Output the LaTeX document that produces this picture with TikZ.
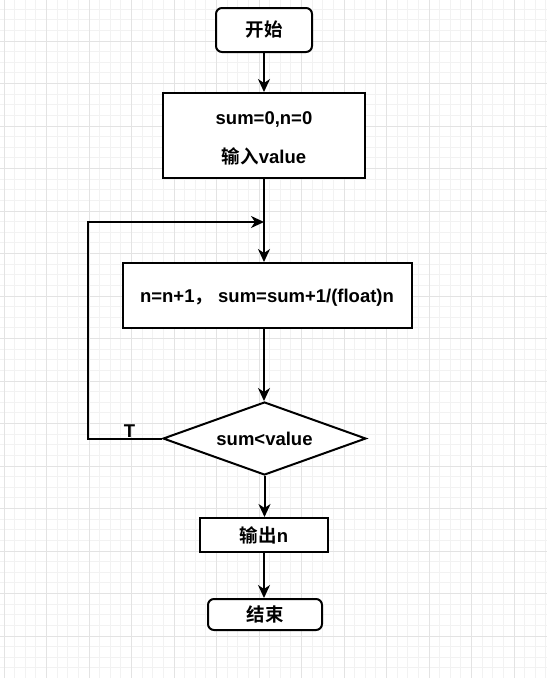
\documentclass[tikz,border=0pt]{standalone}
\usepackage{fontspec}
\setmainfont{Liberation Sans}
\newfontfamily\cjk{Noto Sans CJK SC}[BoldFont={Noto Sans CJK SC Bold}]
\usetikzlibrary{arrows.meta,shapes.geometric}
\begin{document}
\begin{tikzpicture}[x=1pt,y=-1pt,
  every node/.style={font=\fontsize{18.5}{22}\selectfont\bfseries, inner sep=0pt},
  box/.style={draw, line width=2pt, fill=white},
  rbox/.style={box, rounded corners=6pt},
  cond/.style={diamond, draw, line width=2pt, fill=white, shape aspect=2.78, minimum width=203, minimum height=73},
  flow/.style={line width=2pt, -{Stealth[length=13pt,width=12pt,inset=4pt]}},
  minorgrid/.style={draw=black!5, line width=0.8pt},
  majorgrid/.style={draw=black!11, line width=0.8pt}]
\useasboundingbox (0,0) rectangle (547,678);
\fill[white] (0,0) rectangle (547,678);
\foreach \i in {0,...,51} \draw[minorgrid] ({4+10.625*\i},0) -- ++(0,678);
\foreach \j in {1,...,63} \draw[minorgrid] (0,{-1.5+10.625*\j}) -- ++(547,0);
\foreach \i in {0,...,12} \draw[majorgrid] ({4+42.5*\i},0) -- ++(0,678);
\foreach \j in {1,...,15} \draw[majorgrid] (0,{-1.5+42.5*\j}) -- ++(547,0);

\node[rbox, minimum width=96, minimum height=44] (start) at (264,30) {{\cjk 开始}};
\node[box, minimum width=202, minimum height=85] (init) at (264,135.5) {};
\node[anchor=base] (initA) at (264,124) {sum=0,n=0};
\node[anchor=base] (initB) at (264,163) {{\cjk 输入}value};
\node[box, minimum width=289, minimum height=65] (step) at (267.5,295.5) {};
\node[anchor=base] (stepT) at (267,302) {n=n+1{\cjk ，} sum=sum+1/(float)n};
\node[cond] (dec) at (264.5,438.5) {sum<value};
\node[box, minimum width=128, minimum height=34] (out) at (264,535) {{\cjk 输出}n};
\node[rbox, minimum width=114, minimum height=31] (end) at (265,614.5) {{\cjk 结束}};

\coordinate (join) at (264,222);
\coordinate (lp) at (88,438.5);
\node[anchor=base] (tlab) at (129.5,437.5) {T};

\draw[flow] (start.south) -- (start.south |- init.north);
\draw[flow] (init.south) -- (init.south |- step.north);
\draw[flow] (init.south |- step.south) -- (init.south |- dec.north);
\draw[flow] (dec.west) -- (lp) |- (join);
\draw[flow] (dec.south) -- (dec.south |- out.north);
\draw[flow] (out.south) -- (out.south |- end.north);
\end{tikzpicture}
\end{document}
